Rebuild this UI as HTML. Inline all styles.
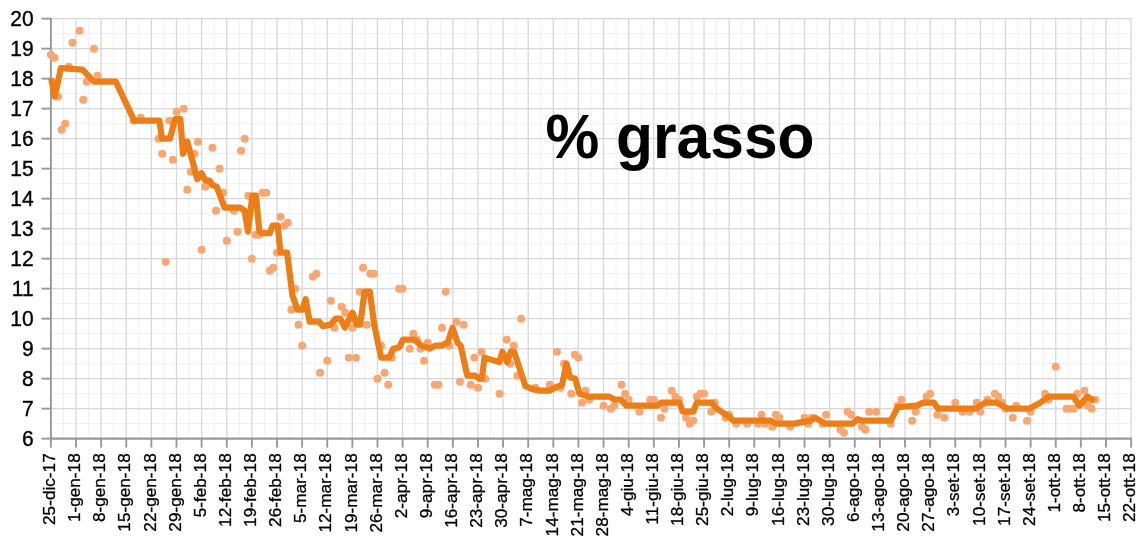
<!DOCTYPE html>
<html><head><meta charset="utf-8"><title>% grasso</title>
<style>html,body{margin:0;padding:0;background:#fff;overflow:hidden}body{width:1147px;height:545px;position:relative}</style></head>
<body>
<svg width="1147" height="545" viewBox="0 0 1147 545" style="position:absolute;left:0;top:0">
<rect width="1147" height="545" fill="#fff"/>
<g stroke="#f0f0f1" stroke-width="1">
<line x1="63.46" y1="18.6" x2="63.46" y2="438.6"/>
<line x1="88.58" y1="18.6" x2="88.58" y2="438.6"/>
<line x1="113.70" y1="18.6" x2="113.70" y2="438.6"/>
<line x1="138.82" y1="18.6" x2="138.82" y2="438.6"/>
<line x1="163.94" y1="18.6" x2="163.94" y2="438.6"/>
<line x1="189.07" y1="18.6" x2="189.07" y2="438.6"/>
<line x1="214.19" y1="18.6" x2="214.19" y2="438.6"/>
<line x1="239.31" y1="18.6" x2="239.31" y2="438.6"/>
<line x1="264.43" y1="18.6" x2="264.43" y2="438.6"/>
<line x1="289.55" y1="18.6" x2="289.55" y2="438.6"/>
<line x1="314.67" y1="18.6" x2="314.67" y2="438.6"/>
<line x1="339.79" y1="18.6" x2="339.79" y2="438.6"/>
<line x1="364.91" y1="18.6" x2="364.91" y2="438.6"/>
<line x1="390.03" y1="18.6" x2="390.03" y2="438.6"/>
<line x1="415.15" y1="18.6" x2="415.15" y2="438.6"/>
<line x1="440.28" y1="18.6" x2="440.28" y2="438.6"/>
<line x1="465.40" y1="18.6" x2="465.40" y2="438.6"/>
<line x1="490.52" y1="18.6" x2="490.52" y2="438.6"/>
<line x1="515.64" y1="18.6" x2="515.64" y2="438.6"/>
<line x1="540.76" y1="18.6" x2="540.76" y2="438.6"/>
<line x1="565.88" y1="18.6" x2="565.88" y2="438.6"/>
<line x1="591.00" y1="18.6" x2="591.00" y2="438.6"/>
<line x1="616.12" y1="18.6" x2="616.12" y2="438.6"/>
<line x1="641.24" y1="18.6" x2="641.24" y2="438.6"/>
<line x1="666.36" y1="18.6" x2="666.36" y2="438.6"/>
<line x1="691.49" y1="18.6" x2="691.49" y2="438.6"/>
<line x1="716.61" y1="18.6" x2="716.61" y2="438.6"/>
<line x1="741.73" y1="18.6" x2="741.73" y2="438.6"/>
<line x1="766.85" y1="18.6" x2="766.85" y2="438.6"/>
<line x1="791.97" y1="18.6" x2="791.97" y2="438.6"/>
<line x1="817.09" y1="18.6" x2="817.09" y2="438.6"/>
<line x1="842.21" y1="18.6" x2="842.21" y2="438.6"/>
<line x1="867.33" y1="18.6" x2="867.33" y2="438.6"/>
<line x1="892.45" y1="18.6" x2="892.45" y2="438.6"/>
<line x1="917.57" y1="18.6" x2="917.57" y2="438.6"/>
<line x1="942.70" y1="18.6" x2="942.70" y2="438.6"/>
<line x1="967.82" y1="18.6" x2="967.82" y2="438.6"/>
<line x1="992.94" y1="18.6" x2="992.94" y2="438.6"/>
<line x1="1018.06" y1="18.6" x2="1018.06" y2="438.6"/>
<line x1="1043.18" y1="18.6" x2="1043.18" y2="438.6"/>
<line x1="1068.30" y1="18.6" x2="1068.30" y2="438.6"/>
<line x1="1093.42" y1="18.6" x2="1093.42" y2="438.6"/>
<line x1="1118.54" y1="18.6" x2="1118.54" y2="438.6"/>
<line x1="50.9" y1="423.65" x2="1131.1" y2="423.65"/>
<line x1="50.9" y1="393.65" x2="1131.1" y2="393.65"/>
<line x1="50.9" y1="363.65" x2="1131.1" y2="363.65"/>
<line x1="50.9" y1="333.65" x2="1131.1" y2="333.65"/>
<line x1="50.9" y1="303.65" x2="1131.1" y2="303.65"/>
<line x1="50.9" y1="273.65" x2="1131.1" y2="273.65"/>
<line x1="50.9" y1="243.65" x2="1131.1" y2="243.65"/>
<line x1="50.9" y1="213.65" x2="1131.1" y2="213.65"/>
<line x1="50.9" y1="183.65" x2="1131.1" y2="183.65"/>
<line x1="50.9" y1="153.65" x2="1131.1" y2="153.65"/>
<line x1="50.9" y1="123.65" x2="1131.1" y2="123.65"/>
<line x1="50.9" y1="93.65" x2="1131.1" y2="93.65"/>
<line x1="50.9" y1="63.65" x2="1131.1" y2="63.65"/>
<line x1="50.9" y1="33.65" x2="1131.1" y2="33.65"/>
</g>
<g stroke="#d8d8da" stroke-width="1.3">
<line x1="76.02" y1="18.6" x2="76.02" y2="438.6"/>
<line x1="101.14" y1="18.6" x2="101.14" y2="438.6"/>
<line x1="126.26" y1="18.6" x2="126.26" y2="438.6"/>
<line x1="151.38" y1="18.6" x2="151.38" y2="438.6"/>
<line x1="176.50" y1="18.6" x2="176.50" y2="438.6"/>
<line x1="201.63" y1="18.6" x2="201.63" y2="438.6"/>
<line x1="226.75" y1="18.6" x2="226.75" y2="438.6"/>
<line x1="251.87" y1="18.6" x2="251.87" y2="438.6"/>
<line x1="276.99" y1="18.6" x2="276.99" y2="438.6"/>
<line x1="302.11" y1="18.6" x2="302.11" y2="438.6"/>
<line x1="327.23" y1="18.6" x2="327.23" y2="438.6"/>
<line x1="352.35" y1="18.6" x2="352.35" y2="438.6"/>
<line x1="377.47" y1="18.6" x2="377.47" y2="438.6"/>
<line x1="402.59" y1="18.6" x2="402.59" y2="438.6"/>
<line x1="427.71" y1="18.6" x2="427.71" y2="438.6"/>
<line x1="452.84" y1="18.6" x2="452.84" y2="438.6"/>
<line x1="477.96" y1="18.6" x2="477.96" y2="438.6"/>
<line x1="503.08" y1="18.6" x2="503.08" y2="438.6"/>
<line x1="528.20" y1="18.6" x2="528.20" y2="438.6"/>
<line x1="553.32" y1="18.6" x2="553.32" y2="438.6"/>
<line x1="578.44" y1="18.6" x2="578.44" y2="438.6"/>
<line x1="603.56" y1="18.6" x2="603.56" y2="438.6"/>
<line x1="628.68" y1="18.6" x2="628.68" y2="438.6"/>
<line x1="653.80" y1="18.6" x2="653.80" y2="438.6"/>
<line x1="678.92" y1="18.6" x2="678.92" y2="438.6"/>
<line x1="704.05" y1="18.6" x2="704.05" y2="438.6"/>
<line x1="729.17" y1="18.6" x2="729.17" y2="438.6"/>
<line x1="754.29" y1="18.6" x2="754.29" y2="438.6"/>
<line x1="779.41" y1="18.6" x2="779.41" y2="438.6"/>
<line x1="804.53" y1="18.6" x2="804.53" y2="438.6"/>
<line x1="829.65" y1="18.6" x2="829.65" y2="438.6"/>
<line x1="854.77" y1="18.6" x2="854.77" y2="438.6"/>
<line x1="879.89" y1="18.6" x2="879.89" y2="438.6"/>
<line x1="905.01" y1="18.6" x2="905.01" y2="438.6"/>
<line x1="930.13" y1="18.6" x2="930.13" y2="438.6"/>
<line x1="955.26" y1="18.6" x2="955.26" y2="438.6"/>
<line x1="980.38" y1="18.6" x2="980.38" y2="438.6"/>
<line x1="1005.50" y1="18.6" x2="1005.50" y2="438.6"/>
<line x1="1030.62" y1="18.6" x2="1030.62" y2="438.6"/>
<line x1="1055.74" y1="18.6" x2="1055.74" y2="438.6"/>
<line x1="1080.86" y1="18.6" x2="1080.86" y2="438.6"/>
<line x1="1105.98" y1="18.6" x2="1105.98" y2="438.6"/>
<line x1="1131.10" y1="18.6" x2="1131.10" y2="438.6"/>
<line x1="50.9" y1="408.65" x2="1131.1" y2="408.65"/>
<line x1="50.9" y1="378.65" x2="1131.1" y2="378.65"/>
<line x1="50.9" y1="348.65" x2="1131.1" y2="348.65"/>
<line x1="50.9" y1="318.65" x2="1131.1" y2="318.65"/>
<line x1="50.9" y1="288.65" x2="1131.1" y2="288.65"/>
<line x1="50.9" y1="258.65" x2="1131.1" y2="258.65"/>
<line x1="50.9" y1="228.65" x2="1131.1" y2="228.65"/>
<line x1="50.9" y1="198.65" x2="1131.1" y2="198.65"/>
<line x1="50.9" y1="168.65" x2="1131.1" y2="168.65"/>
<line x1="50.9" y1="138.65" x2="1131.1" y2="138.65"/>
<line x1="50.9" y1="108.65" x2="1131.1" y2="108.65"/>
<line x1="50.9" y1="78.65" x2="1131.1" y2="78.65"/>
<line x1="50.9" y1="48.65" x2="1131.1" y2="48.65"/>
<line x1="50.9" y1="18.65" x2="1131.1" y2="18.65"/>
</g>
<g stroke="#989898" stroke-width="1.9" fill="none">
<line x1="50.9" y1="17.9" x2="50.9" y2="439.3"/>
<line x1="50.2" y1="438.65" x2="1131.8" y2="438.65" stroke-width="2.1"/>
<line x1="41.4" y1="438.65" x2="50.9" y2="438.65"/>
<line x1="41.4" y1="408.65" x2="50.9" y2="408.65"/>
<line x1="41.4" y1="378.65" x2="50.9" y2="378.65"/>
<line x1="41.4" y1="348.65" x2="50.9" y2="348.65"/>
<line x1="41.4" y1="318.65" x2="50.9" y2="318.65"/>
<line x1="41.4" y1="288.65" x2="50.9" y2="288.65"/>
<line x1="41.4" y1="258.65" x2="50.9" y2="258.65"/>
<line x1="41.4" y1="228.65" x2="50.9" y2="228.65"/>
<line x1="41.4" y1="198.65" x2="50.9" y2="198.65"/>
<line x1="41.4" y1="168.65" x2="50.9" y2="168.65"/>
<line x1="41.4" y1="138.65" x2="50.9" y2="138.65"/>
<line x1="41.4" y1="108.65" x2="50.9" y2="108.65"/>
<line x1="41.4" y1="78.65" x2="50.9" y2="78.65"/>
<line x1="41.4" y1="48.65" x2="50.9" y2="48.65"/>
<line x1="41.4" y1="18.65" x2="50.9" y2="18.65"/>
<line x1="50.90" y1="438.65" x2="50.90" y2="447.6"/>
<line x1="76.02" y1="438.65" x2="76.02" y2="447.6"/>
<line x1="101.14" y1="438.65" x2="101.14" y2="447.6"/>
<line x1="126.26" y1="438.65" x2="126.26" y2="447.6"/>
<line x1="151.38" y1="438.65" x2="151.38" y2="447.6"/>
<line x1="176.50" y1="438.65" x2="176.50" y2="447.6"/>
<line x1="201.63" y1="438.65" x2="201.63" y2="447.6"/>
<line x1="226.75" y1="438.65" x2="226.75" y2="447.6"/>
<line x1="251.87" y1="438.65" x2="251.87" y2="447.6"/>
<line x1="276.99" y1="438.65" x2="276.99" y2="447.6"/>
<line x1="302.11" y1="438.65" x2="302.11" y2="447.6"/>
<line x1="327.23" y1="438.65" x2="327.23" y2="447.6"/>
<line x1="352.35" y1="438.65" x2="352.35" y2="447.6"/>
<line x1="377.47" y1="438.65" x2="377.47" y2="447.6"/>
<line x1="402.59" y1="438.65" x2="402.59" y2="447.6"/>
<line x1="427.71" y1="438.65" x2="427.71" y2="447.6"/>
<line x1="452.84" y1="438.65" x2="452.84" y2="447.6"/>
<line x1="477.96" y1="438.65" x2="477.96" y2="447.6"/>
<line x1="503.08" y1="438.65" x2="503.08" y2="447.6"/>
<line x1="528.20" y1="438.65" x2="528.20" y2="447.6"/>
<line x1="553.32" y1="438.65" x2="553.32" y2="447.6"/>
<line x1="578.44" y1="438.65" x2="578.44" y2="447.6"/>
<line x1="603.56" y1="438.65" x2="603.56" y2="447.6"/>
<line x1="628.68" y1="438.65" x2="628.68" y2="447.6"/>
<line x1="653.80" y1="438.65" x2="653.80" y2="447.6"/>
<line x1="678.92" y1="438.65" x2="678.92" y2="447.6"/>
<line x1="704.05" y1="438.65" x2="704.05" y2="447.6"/>
<line x1="729.17" y1="438.65" x2="729.17" y2="447.6"/>
<line x1="754.29" y1="438.65" x2="754.29" y2="447.6"/>
<line x1="779.41" y1="438.65" x2="779.41" y2="447.6"/>
<line x1="804.53" y1="438.65" x2="804.53" y2="447.6"/>
<line x1="829.65" y1="438.65" x2="829.65" y2="447.6"/>
<line x1="854.77" y1="438.65" x2="854.77" y2="447.6"/>
<line x1="879.89" y1="438.65" x2="879.89" y2="447.6"/>
<line x1="905.01" y1="438.65" x2="905.01" y2="447.6"/>
<line x1="930.13" y1="438.65" x2="930.13" y2="447.6"/>
<line x1="955.26" y1="438.65" x2="955.26" y2="447.6"/>
<line x1="980.38" y1="438.65" x2="980.38" y2="447.6"/>
<line x1="1005.50" y1="438.65" x2="1005.50" y2="447.6"/>
<line x1="1030.62" y1="438.65" x2="1030.62" y2="447.6"/>
<line x1="1055.74" y1="438.65" x2="1055.74" y2="447.6"/>
<line x1="1080.86" y1="438.65" x2="1080.86" y2="447.6"/>
<line x1="1105.98" y1="438.65" x2="1105.98" y2="447.6"/>
<line x1="1131.10" y1="438.65" x2="1131.10" y2="447.6"/>
</g>
<g fill="#f8a773">
<circle cx="50.9" cy="54.65" r="4.0"/>
<circle cx="54.49" cy="57.65" r="4.0"/>
<circle cx="72.43" cy="42.65" r="4.0"/>
<circle cx="79.61" cy="30.65" r="4.0"/>
<circle cx="93.96" cy="48.65" r="4.0"/>
<circle cx="68.84" cy="66.65" r="4.0"/>
<circle cx="97.55" cy="75.65" r="4.0"/>
<circle cx="86.79" cy="81.65" r="4.0"/>
<circle cx="58.08" cy="96.65" r="4.0"/>
<circle cx="83.2" cy="99.65" r="4.0"/>
<circle cx="65.25" cy="123.65" r="4.0"/>
<circle cx="61.67" cy="129.65" r="4.0"/>
<circle cx="133.44" cy="120.65" r="4.0"/>
<circle cx="140.62" cy="117.65" r="4.0"/>
<circle cx="183.68" cy="108.65" r="4.0"/>
<circle cx="176.5" cy="111.65" r="4.0"/>
<circle cx="169.33" cy="120.65" r="4.0"/>
<circle cx="158.56" cy="138.65" r="4.0"/>
<circle cx="162.15" cy="153.65" r="4.0"/>
<circle cx="172.92" cy="159.65" r="4.0"/>
<circle cx="198.04" cy="141.65" r="4.0"/>
<circle cx="212.39" cy="147.65" r="4.0"/>
<circle cx="194.45" cy="153.65" r="4.0"/>
<circle cx="219.57" cy="168.65" r="4.0"/>
<circle cx="190.86" cy="171.65" r="4.0"/>
<circle cx="241.1" cy="150.65" r="4.0"/>
<circle cx="244.69" cy="138.65" r="4.0"/>
<circle cx="187.27" cy="189.65" r="4.0"/>
<circle cx="205.21" cy="186.65" r="4.0"/>
<circle cx="223.16" cy="192.65" r="4.0"/>
<circle cx="215.98" cy="210.65" r="4.0"/>
<circle cx="233.92" cy="210.65" r="4.0"/>
<circle cx="237.51" cy="231.65" r="4.0"/>
<circle cx="226.75" cy="240.65" r="4.0"/>
<circle cx="248.28" cy="195.65" r="4.0"/>
<circle cx="262.63" cy="192.65" r="4.0"/>
<circle cx="266.22" cy="192.65" r="4.0"/>
<circle cx="280.58" cy="216.65" r="4.0"/>
<circle cx="287.76" cy="222.65" r="4.0"/>
<circle cx="284.17" cy="225.65" r="4.0"/>
<circle cx="255.46" cy="234.65" r="4.0"/>
<circle cx="165.74" cy="261.65" r="4.0"/>
<circle cx="201.63" cy="249.65" r="4.0"/>
<circle cx="259.05" cy="234.65" r="4.0"/>
<circle cx="251.87" cy="258.65" r="4.0"/>
<circle cx="276.99" cy="252.65" r="4.0"/>
<circle cx="273.4" cy="267.65" r="4.0"/>
<circle cx="269.81" cy="270.65" r="4.0"/>
<circle cx="316.46" cy="273.65" r="4.0"/>
<circle cx="312.88" cy="276.65" r="4.0"/>
<circle cx="294.93" cy="288.65" r="4.0"/>
<circle cx="291.34" cy="309.65" r="4.0"/>
<circle cx="330.82" cy="300.65" r="4.0"/>
<circle cx="341.59" cy="306.65" r="4.0"/>
<circle cx="345.17" cy="312.65" r="4.0"/>
<circle cx="363.12" cy="267.65" r="4.0"/>
<circle cx="370.3" cy="273.65" r="4.0"/>
<circle cx="373.88" cy="273.65" r="4.0"/>
<circle cx="359.53" cy="291.65" r="4.0"/>
<circle cx="399.01" cy="288.65" r="4.0"/>
<circle cx="402.59" cy="288.65" r="4.0"/>
<circle cx="298.52" cy="324.65" r="4.0"/>
<circle cx="302.11" cy="345.65" r="4.0"/>
<circle cx="334.41" cy="327.65" r="4.0"/>
<circle cx="352.35" cy="327.65" r="4.0"/>
<circle cx="366.71" cy="324.65" r="4.0"/>
<circle cx="327.23" cy="360.65" r="4.0"/>
<circle cx="320.05" cy="372.65" r="4.0"/>
<circle cx="348.76" cy="357.65" r="4.0"/>
<circle cx="355.94" cy="357.65" r="4.0"/>
<circle cx="445.66" cy="291.65" r="4.0"/>
<circle cx="381.06" cy="345.65" r="4.0"/>
<circle cx="391.83" cy="357.65" r="4.0"/>
<circle cx="384.65" cy="372.65" r="4.0"/>
<circle cx="377.47" cy="378.65" r="4.0"/>
<circle cx="388.24" cy="384.65" r="4.0"/>
<circle cx="413.36" cy="333.65" r="4.0"/>
<circle cx="416.95" cy="339.65" r="4.0"/>
<circle cx="409.77" cy="348.65" r="4.0"/>
<circle cx="420.54" cy="348.65" r="4.0"/>
<circle cx="427.71" cy="342.65" r="4.0"/>
<circle cx="424.13" cy="360.65" r="4.0"/>
<circle cx="442.07" cy="327.65" r="4.0"/>
<circle cx="456.42" cy="321.65" r="4.0"/>
<circle cx="463.6" cy="324.65" r="4.0"/>
<circle cx="449.25" cy="345.65" r="4.0"/>
<circle cx="474.37" cy="357.65" r="4.0"/>
<circle cx="481.55" cy="351.65" r="4.0"/>
<circle cx="434.89" cy="384.65" r="4.0"/>
<circle cx="438.48" cy="384.65" r="4.0"/>
<circle cx="460.01" cy="381.65" r="4.0"/>
<circle cx="470.78" cy="384.65" r="4.0"/>
<circle cx="477.96" cy="387.65" r="4.0"/>
<circle cx="485.13" cy="378.65" r="4.0"/>
<circle cx="499.49" cy="393.65" r="4.0"/>
<circle cx="506.67" cy="339.65" r="4.0"/>
<circle cx="513.84" cy="345.65" r="4.0"/>
<circle cx="510.26" cy="363.65" r="4.0"/>
<circle cx="517.43" cy="375.65" r="4.0"/>
<circle cx="535.38" cy="387.65" r="4.0"/>
<circle cx="549.73" cy="384.65" r="4.0"/>
<circle cx="556.91" cy="351.65" r="4.0"/>
<circle cx="560.5" cy="387.65" r="4.0"/>
<circle cx="564.09" cy="363.65" r="4.0"/>
<circle cx="574.85" cy="354.65" r="4.0"/>
<circle cx="578.44" cy="357.65" r="4.0"/>
<circle cx="571.26" cy="393.65" r="4.0"/>
<circle cx="585.62" cy="390.65" r="4.0"/>
<circle cx="589.21" cy="399.65" r="4.0"/>
<circle cx="582.03" cy="402.65" r="4.0"/>
<circle cx="603.56" cy="405.65" r="4.0"/>
<circle cx="610.74" cy="408.65" r="4.0"/>
<circle cx="614.33" cy="405.65" r="4.0"/>
<circle cx="621.51" cy="384.65" r="4.0"/>
<circle cx="625.09" cy="393.65" r="4.0"/>
<circle cx="628.68" cy="399.65" r="4.0"/>
<circle cx="639.45" cy="411.65" r="4.0"/>
<circle cx="521.02" cy="318.65" r="4.0"/>
<circle cx="650.22" cy="399.65" r="4.0"/>
<circle cx="653.8" cy="399.65" r="4.0"/>
<circle cx="660.98" cy="417.65" r="4.0"/>
<circle cx="664.57" cy="408.65" r="4.0"/>
<circle cx="671.75" cy="390.65" r="4.0"/>
<circle cx="675.34" cy="396.65" r="4.0"/>
<circle cx="678.92" cy="399.65" r="4.0"/>
<circle cx="686.1" cy="417.65" r="4.0"/>
<circle cx="689.69" cy="423.65" r="4.0"/>
<circle cx="693.28" cy="420.65" r="4.0"/>
<circle cx="696.87" cy="396.65" r="4.0"/>
<circle cx="700.46" cy="393.65" r="4.0"/>
<circle cx="704.05" cy="393.65" r="4.0"/>
<circle cx="711.22" cy="411.65" r="4.0"/>
<circle cx="714.81" cy="402.65" r="4.0"/>
<circle cx="725.58" cy="417.65" r="4.0"/>
<circle cx="729.17" cy="414.65" r="4.0"/>
<circle cx="736.34" cy="423.65" r="4.0"/>
<circle cx="747.11" cy="423.65" r="4.0"/>
<circle cx="757.88" cy="423.65" r="4.0"/>
<circle cx="761.47" cy="414.65" r="4.0"/>
<circle cx="765.05" cy="423.65" r="4.0"/>
<circle cx="772.23" cy="426.65" r="4.0"/>
<circle cx="775.82" cy="414.65" r="4.0"/>
<circle cx="779.41" cy="417.65" r="4.0"/>
<circle cx="790.18" cy="426.65" r="4.0"/>
<circle cx="804.53" cy="417.65" r="4.0"/>
<circle cx="808.12" cy="423.65" r="4.0"/>
<circle cx="811.71" cy="417.65" r="4.0"/>
<circle cx="822.47" cy="423.65" r="4.0"/>
<circle cx="826.06" cy="414.65" r="4.0"/>
<circle cx="840.42" cy="429.65" r="4.0"/>
<circle cx="844.01" cy="432.65" r="4.0"/>
<circle cx="847.59" cy="411.65" r="4.0"/>
<circle cx="851.18" cy="414.65" r="4.0"/>
<circle cx="861.95" cy="426.65" r="4.0"/>
<circle cx="865.54" cy="429.65" r="4.0"/>
<circle cx="869.13" cy="411.65" r="4.0"/>
<circle cx="876.3" cy="411.65" r="4.0"/>
<circle cx="890.66" cy="423.65" r="4.0"/>
<circle cx="901.43" cy="399.65" r="4.0"/>
<circle cx="897.84" cy="405.65" r="4.0"/>
<circle cx="912.19" cy="420.65" r="4.0"/>
<circle cx="915.78" cy="411.65" r="4.0"/>
<circle cx="930.13" cy="393.65" r="4.0"/>
<circle cx="926.55" cy="396.65" r="4.0"/>
<circle cx="937.31" cy="414.65" r="4.0"/>
<circle cx="944.49" cy="417.65" r="4.0"/>
<circle cx="955.26" cy="402.65" r="4.0"/>
<circle cx="962.43" cy="411.65" r="4.0"/>
<circle cx="969.61" cy="411.65" r="4.0"/>
<circle cx="976.79" cy="402.65" r="4.0"/>
<circle cx="980.38" cy="411.65" r="4.0"/>
<circle cx="987.55" cy="399.65" r="4.0"/>
<circle cx="994.73" cy="393.65" r="4.0"/>
<circle cx="998.32" cy="396.65" r="4.0"/>
<circle cx="1001.91" cy="402.65" r="4.0"/>
<circle cx="1005.5" cy="408.65" r="4.0"/>
<circle cx="1012.68" cy="417.65" r="4.0"/>
<circle cx="1016.26" cy="405.65" r="4.0"/>
<circle cx="1027.03" cy="420.65" r="4.0"/>
<circle cx="1030.62" cy="411.65" r="4.0"/>
<circle cx="1044.97" cy="393.65" r="4.0"/>
<circle cx="1048.56" cy="399.65" r="4.0"/>
<circle cx="1055.74" cy="366.65" r="4.0"/>
<circle cx="1066.51" cy="408.65" r="4.0"/>
<circle cx="1070.09" cy="408.65" r="4.0"/>
<circle cx="1073.68" cy="408.65" r="4.0"/>
<circle cx="1077.27" cy="393.65" r="4.0"/>
<circle cx="1084.45" cy="390.65" r="4.0"/>
<circle cx="1088.04" cy="405.65" r="4.0"/>
<circle cx="1091.63" cy="408.65" r="4.0"/>
<circle cx="1095.22" cy="399.65" r="4.0"/>
</g>
<polyline points="51.3,78.65 54.8,96.65 60.9,68.15 82.5,69.65 94,81.65 115.8,81.65 134.2,120.65 159.4,120.65 162,138.65 169.9,138.65 175.1,119.15 180.4,119.15 183,153.65 187.3,141.65 197.3,179.15 201.5,173.15 205.7,180.65 209.7,180.65 212.3,185.15 216.7,186.65 224.5,207.65 228.9,207.65 240.2,207.65 244.6,210.65 248,231.65 252.4,195.65 255.9,195.65 259.4,231.65 262,233.15 269.9,233.15 272.5,225.65 277.7,225.65 280.5,252.65 287.1,252.65 292.3,294.65 297.4,309.65 302.3,309.65 305.6,299.15 309.6,321.65 319.2,321.65 322.7,326.15 330.6,324.65 335.8,318.65 340.2,318.65 344.9,327.65 352.4,312.65 356.7,324.65 360.2,324.65 364.6,291.65 369.8,291.65 374.2,324.65 381.1,357.65 389,357.65 393.3,348.65 399.4,347.15 402.9,339.65 414.3,339.65 421.2,345.65 430,348.65 435.2,345.65 441.3,345.65 447.6,342.65 452.6,327.65 457.6,342.65 460.7,345.65 467.2,375.65 474.9,375.65 479.2,378.65 481.8,378.65 484.5,357.65 499.3,362.15 502.4,351.65 507.1,362.15 510.6,351.65 514.1,351.65 525.4,386.15 532.4,389.15 539.4,390.65 549.9,390.65 555.1,387.65 562.1,384.65 566.4,363.65 569.9,377.15 575.1,378.65 579.5,393.65 588.2,396.65 609.4,396.65 615,399.65 621,399.65 626.4,405.65 657.5,405.65 661,402.65 679.3,402.65 682.8,411.65 693.3,411.65 696.8,402.65 711.6,402.65 716.8,408.65 728.2,416.15 733.4,420.65 770.5,420.65 776,423.65 794.9,423.65 801.8,422.15 810.6,420.65 814.9,417.65 825.4,423.65 852.4,423.65 857.6,419.15 862.9,420.65 890.8,420.65 897.8,407.15 916.9,405.65 923,402.65 933.8,402.65 938.1,408.65 975.8,408.65 985.4,402.65 996.7,402.65 1008,408.65 1029,408.65 1040.3,402.65 1048.2,396.65 1073.4,396.65 1079.5,405.65 1087.4,396.65 1094.4,401.15" fill="none" stroke="#ed7d17" stroke-width="6.2" stroke-linejoin="round" stroke-linecap="butt"/>
<g font-family="Liberation Sans, Arial, Helvetica, sans-serif" font-size="21" fill="#000" stroke="#000" stroke-width="0.35" text-anchor="end">
<text transform="translate(33.6,445.6) scale(1,1.05)">6</text>
<text transform="translate(33.6,415.6) scale(1,1.05)">7</text>
<text transform="translate(33.6,385.6) scale(1,1.05)">8</text>
<text transform="translate(33.6,355.6) scale(1,1.05)">9</text>
<text transform="translate(33.6,325.6) scale(1,1.05)">10</text>
<text transform="translate(33.6,295.6) scale(1,1.05)">11</text>
<text transform="translate(33.6,265.6) scale(1,1.05)">12</text>
<text transform="translate(33.6,235.6) scale(1,1.05)">13</text>
<text transform="translate(33.6,205.6) scale(1,1.05)">14</text>
<text transform="translate(33.6,175.6) scale(1,1.05)">15</text>
<text transform="translate(33.6,145.6) scale(1,1.05)">16</text>
<text transform="translate(33.6,115.6) scale(1,1.05)">17</text>
<text transform="translate(33.6,85.6) scale(1,1.05)">18</text>
<text transform="translate(33.6,55.6) scale(1,1.05)">19</text>
<text transform="translate(33.6,25.6) scale(1,1.05)">20</text>
</g>
<g font-family="Liberation Sans, Arial, Helvetica, sans-serif" font-size="17.2" fill="#000" stroke="#000" stroke-width="0.3" text-anchor="end">
<text transform="translate(55.10,453.3) rotate(-90)">25-dic-17</text>
<text transform="translate(80.22,453.3) rotate(-90)">1-gen-18</text>
<text transform="translate(105.34,453.3) rotate(-90)">8-gen-18</text>
<text transform="translate(130.46,453.3) rotate(-90)">15-gen-18</text>
<text transform="translate(155.58,453.3) rotate(-90)">22-gen-18</text>
<text transform="translate(180.70,453.3) rotate(-90)">29-gen-18</text>
<text transform="translate(205.83,453.3) rotate(-90)">5-feb-18</text>
<text transform="translate(230.95,453.3) rotate(-90)">12-feb-18</text>
<text transform="translate(256.07,453.3) rotate(-90)">19-feb-18</text>
<text transform="translate(281.19,453.3) rotate(-90)">26-feb-18</text>
<text transform="translate(306.31,453.3) rotate(-90)">5-mar-18</text>
<text transform="translate(331.43,453.3) rotate(-90)">12-mar-18</text>
<text transform="translate(356.55,453.3) rotate(-90)">19-mar-18</text>
<text transform="translate(381.67,453.3) rotate(-90)">26-mar-18</text>
<text transform="translate(406.79,453.3) rotate(-90)">2-apr-18</text>
<text transform="translate(431.91,453.3) rotate(-90)">9-apr-18</text>
<text transform="translate(457.04,453.3) rotate(-90)">16-apr-18</text>
<text transform="translate(482.16,453.3) rotate(-90)">23-apr-18</text>
<text transform="translate(507.28,453.3) rotate(-90)">30-apr-18</text>
<text transform="translate(532.40,453.3) rotate(-90)">7-mag-18</text>
<text transform="translate(557.52,453.3) rotate(-90)">14-mag-18</text>
<text transform="translate(582.64,453.3) rotate(-90)">21-mag-18</text>
<text transform="translate(607.76,453.3) rotate(-90)">28-mag-18</text>
<text transform="translate(632.88,453.3) rotate(-90)">4-giu-18</text>
<text transform="translate(658.00,453.3) rotate(-90)">11-giu-18</text>
<text transform="translate(683.12,453.3) rotate(-90)">18-giu-18</text>
<text transform="translate(708.25,453.3) rotate(-90)">25-giu-18</text>
<text transform="translate(733.37,453.3) rotate(-90)">2-lug-18</text>
<text transform="translate(758.49,453.3) rotate(-90)">9-lug-18</text>
<text transform="translate(783.61,453.3) rotate(-90)">16-lug-18</text>
<text transform="translate(808.73,453.3) rotate(-90)">23-lug-18</text>
<text transform="translate(833.85,453.3) rotate(-90)">30-lug-18</text>
<text transform="translate(858.97,453.3) rotate(-90)">6-ago-18</text>
<text transform="translate(884.09,453.3) rotate(-90)">13-ago-18</text>
<text transform="translate(909.21,453.3) rotate(-90)">20-ago-18</text>
<text transform="translate(934.33,453.3) rotate(-90)">27-ago-18</text>
<text transform="translate(959.46,453.3) rotate(-90)">3-set-18</text>
<text transform="translate(984.58,453.3) rotate(-90)">10-set-18</text>
<text transform="translate(1009.70,453.3) rotate(-90)">17-set-18</text>
<text transform="translate(1034.82,453.3) rotate(-90)">24-set-18</text>
<text transform="translate(1059.94,453.3) rotate(-90)">1-ott-18</text>
<text transform="translate(1085.06,453.3) rotate(-90)">8-ott-18</text>
<text transform="translate(1110.18,453.3) rotate(-90)">15-ott-18</text>
<text transform="translate(1135.30,453.3) rotate(-90)">22-ott-18</text>
</g>
<text transform="translate(680,158) scale(1,1.03)" font-family="Liberation Sans, Arial, Helvetica, sans-serif" font-weight="bold" font-size="60.5" text-anchor="middle" fill="#000">% grasso</text>
</svg>
</body></html>
